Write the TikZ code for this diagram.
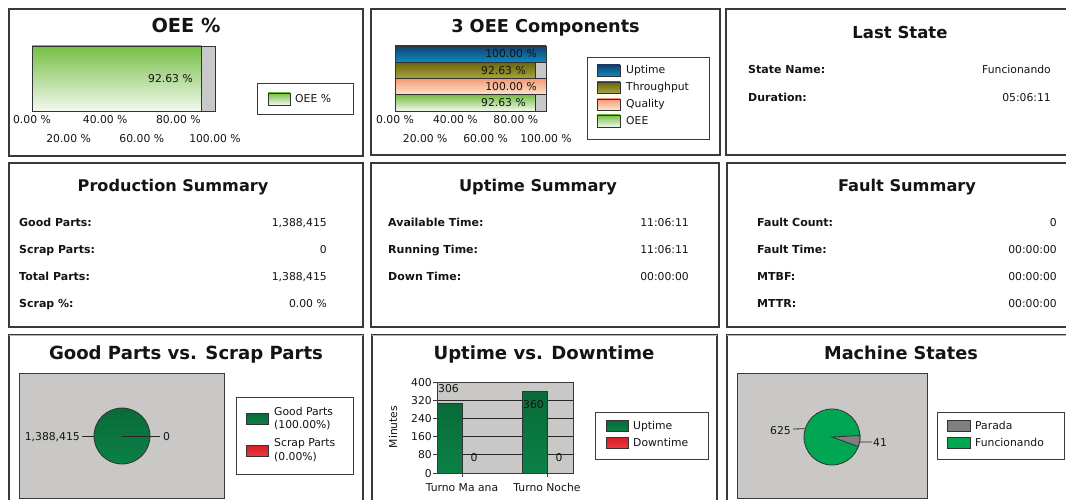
\documentclass[tikz,border=0pt]{standalone}
\usepackage{fontspec}
\setmainfont{DejaVu Sans}
\definecolor{txt}{HTML}{141414}
\definecolor{pborder}{HTML}{3A3A3A}
\definecolor{plotgray}{HTML}{C9C8C6}
\definecolor{restgray}{HTML}{C8C8C8}
\definecolor{oeetop}{HTML}{76BE45}
\definecolor{oeebot}{HTML}{F3F9EF}
\definecolor{uptop}{HTML}{16406E}
\definecolor{upbot}{HTML}{0A8CC0}
\definecolor{thtop}{HTML}{6A6610}
\definecolor{thbot}{HTML}{A9A53C}
\definecolor{qutop}{HTML}{F49A74}
\definecolor{qubot}{HTML}{FEE6D0}
\definecolor{gptop}{HTML}{0A6A39}
\definecolor{gpbot}{HTML}{0A8146}
\definecolor{sctop}{HTML}{D01F26}
\definecolor{scbot}{HTML}{F2333C}
\definecolor{fgreen}{HTML}{00A651}
\definecolor{pgray}{HTML}{7F7F7F}
\begin{document}
\begin{tikzpicture}[x=1pt,y=-1pt,
  panel/.style={draw=pborder,line width=1.2pt,fill=white},
  ttl/.style={font=\fontsize{#1}{20}\selectfont\bfseries,text=txt,inner sep=0,anchor=base},
  ttl/.default=17,
  lbl/.style={font=\fontsize{11}{13}\selectfont\bfseries,text=txt,inner sep=0,anchor=base west},
  val/.style={font=\fontsize{10.8}{13}\selectfont,text=txt,inner sep=0,anchor=base east},
  sm/.style={font=\fontsize{10.8}{13}\selectfont,text=txt,inner sep=0,anchor=base},
  smw/.style={sm,anchor=base west},
  sme/.style={sm,anchor=base east},
  legbox/.style={draw=pborder,line width=0.9pt,fill=white},
  sw/.style={draw=black!80,line width=0.8pt},
  barb/.style={draw=black!80,line width=0.8pt},
  leader/.style={draw=black!85,line width=0.8pt}]
\useasboundingbox (0,0) rectangle (1066,500);
\clip (0,0) rectangle (1066,500);
\fill[white] (0,0) rectangle (1066,500);

% ---------- panels ----------
\draw[panel] (9,9) rectangle (363,156);
\draw[panel] (371,9) rectangle (720,155);
\draw[panel] (726,9) rectangle (1080,155);
\draw[panel] (9,163) rectangle (363,327);
\draw[panel] (371,163) rectangle (719,327);
\draw[panel] (727,163) rectangle (1080,327);
\draw[panel] (9,335) rectangle (363,520);
\draw[panel] (372,335) rectangle (717,520);
\draw[panel] (727,335) rectangle (1080,520);
\draw[black!30,line width=1pt] (9,335) -- (363,335) (372,335) -- (717,335) (727,335) -- (1080,335);

% ---------- OEE % ----------
\node[ttl=19.3] (t1) at (186,32.7) {OEE \%};
\fill[top color=oeetop,bottom color=oeebot] (32,46) rectangle (201.5,111);
\fill[restgray] (201.5,46) rectangle (215,111);
\draw[barb] (201.5,46) -- (201.5,111);
\draw[barb] (32,46) rectangle (215,111);
\node[sme] (v1) at (193,83) {92.63 \%};
\node[sm] (a10) at (32,123.5) {0.00 \%};
\node[sm] (a140) at (105.2,123.5) {40.00 \%};
\node[sm] (a180) at (178.4,123.5) {80.00 \%};
\node[sm] (a120) at (68.6,143) {20.00 \%};
\node[sm] (a160) at (141.8,143) {60.00 \%};
\node[sm] (a1100) at (215,143) {100.00 \%};
\draw[legbox] (257,83) rectangle (353,114);
\draw[sw,top color=oeetop,bottom color=oeebot] (268,93) rectangle (290,105);
\node[smw] (l1) at (295,103) {OEE \%};

% ---------- 3 OEE Components ----------
\node[ttl=17.7] (t2) at (545.5,32.7) {3 OEE Components};
\fill[top color=uptop,bottom color=upbot] (395,46) rectangle (546,62.3);
\fill[top color=thtop,bottom color=thbot] (395,62.3) rectangle (534.9,78.6);
\fill[restgray] (534.9,62.3) rectangle (546,78.6);
\fill[top color=qutop,bottom color=qubot] (395,78.6) rectangle (546,94.9);
\fill[top color=oeetop,bottom color=oeebot] (395,94.9) rectangle (534.9,111);
\fill[restgray] (534.9,94.9) rectangle (546,111);
\draw[barb] (395,62.3) -- (546,62.3) (395,78.6) -- (546,78.6) (395,94.9) -- (546,94.9)
  (534.9,62.3) -- (534.9,78.6) (534.9,94.9) -- (534.9,111);
\draw[barb] (395,46) rectangle (546,111);
\node[sme] (v21) at (537,58) {100.00 \%};
\node[sme] (v22) at (526,75) {92.63 \%};
\node[sme] (v23) at (537,91) {100.00 \%};
\node[sme] (v24) at (526,107) {92.63 \%};
\node[sm] (a20) at (395,123.5) {0.00 \%};
\node[sm] (a240) at (455.4,123.5) {40.00 \%};
\node[sm] (a280) at (515.8,123.5) {80.00 \%};
\node[sm] (a220) at (425.2,143) {20.00 \%};
\node[sm] (a260) at (485.6,143) {60.00 \%};
\node[sm] (a2100) at (546,143) {100.00 \%};
\draw[legbox] (587,57) rectangle (709,139);
\draw[sw,top color=uptop,bottom color=upbot] (597,65) rectangle (620,76);
\draw[sw,top color=thtop,bottom color=thbot] (597,82) rectangle (620,93);
\draw[sw,top color=qutop,bottom color=qubot] (597,99) rectangle (620,110);
\draw[sw,top color=oeetop,bottom color=oeebot] (597,115) rectangle (620,127);
\node[smw] (l21) at (626,74) {Uptime};
\node[smw] (l22) at (626,91) {Throughput};
\node[smw] (l23) at (626,107.5) {Quality};
\node[smw] (l24) at (626,125) {OEE};

% ---------- Last State ----------
\node[ttl=16.5] (t3) at (900,38.3) {Last State};
\node[lbl] (k31) at (748,74) {State Name:};
\node[val] (v31) at (1051,74) {Funcionando};
\node[lbl] (k32) at (748,101.5) {Duration:};
\node[val] (v32) at (1051,101.5) {05:06:11};

% ---------- Production Summary ----------
\node[ttl=16.1] (t4) at (173,191.5) {Production Summary};
\node[lbl] (k41) at (19,226) {Good Parts:};
\node[val] (v41) at (327,226) {1,388,415};
\node[lbl] (k42) at (19,253) {Scrap Parts:};
\node[val] (v42) at (327,253) {0};
\node[lbl] (k43) at (19,280) {Total Parts:};
\node[val] (v43) at (327,280) {1,388,415};
\node[lbl] (k44) at (19,307) {Scrap \%:};
\node[val] (v44) at (327,307) {0.00 \%};

% ---------- Uptime Summary ----------
\node[ttl=16.2] (t5) at (538,191.5) {Uptime Summary};
\node[lbl] (k51) at (388,226) {Available Time:};
\node[val] (v51) at (689,226) {11:06:11};
\node[lbl] (k52) at (388,253) {Running Time:};
\node[val] (v52) at (689,253) {11:06:11};
\node[lbl] (k53) at (388,280) {Down Time:};
\node[val] (v53) at (689,280) {00:00:00};

% ---------- Fault Summary ----------
\node[ttl=16.2] (t6) at (907,191.5) {Fault Summary};
\node[lbl] (k61) at (757,226) {Fault Count:};
\node[val] (v61) at (1057,226) {0};
\node[lbl] (k62) at (757,253) {Fault Time:};
\node[val] (v62) at (1057,253) {00:00:00};
\node[lbl] (k63) at (757,280) {MTBF:};
\node[val] (v63) at (1057,280) {00:00:00};
\node[lbl] (k64) at (757,307) {MTTR:};
\node[val] (v64) at (1057,307) {00:00:00};

% ---------- Good Parts vs. Scrap Parts ----------
\node[ttl=18.1] (t7) at (186,359) {Good Parts vs. Scrap Parts};
\draw[draw=pborder,line width=1pt,fill=plotgray] (19,373) rectangle (224,498);
\node[circle,inner sep=0,minimum size=56pt,draw=black!80,line width=0.8pt,top color=gptop,bottom color=gpbot] (gp) at (122,436) {};
\coordinate (gpR) at (160,436);
\coordinate (gpL) at (82,436);
\draw[leader] (gp.center) -- (gpR);
\draw[leader] (gpL) -- (gp.west);
\node[smw] (gp0) at (163,440) {0};
\node[sme] (gpv) at (80,440) {1,388,415};
\draw[legbox] (236,397) rectangle (353,474);
\draw[sw,top color=gptop,bottom color=gpbot] (246,413) rectangle (268,424);
\draw[sw,top color=sctop,bottom color=scbot] (246,445) rectangle (268,456);
\node[smw] (l71) at (274,415) {Good Parts};
\node[smw] (l72) at (274,428.5) {(100.00\%)};
\node[smw] (l73) at (274,446.5) {Scrap Parts};
\node[smw] (l74) at (274,460.5) {(0.00\%)};

% ---------- Uptime vs. Downtime ----------
\node[ttl=18.1] (t8) at (544,359) {Uptime vs. Downtime};
\fill[plotgray] (437,382) rectangle (573,473);
\draw[black!85,line width=0.8pt] (437,400.2) -- (573,400.2) (437,418.4) -- (573,418.4)
  (437,436.6) -- (573,436.6) (437,454.8) -- (573,454.8);
\draw[top color=gptop,bottom color=gpbot,draw=black!80,line width=0.8pt] (437,403.4) rectangle (462,473);
\draw[top color=gptop,bottom color=gpbot,draw=black!80,line width=0.8pt] (522,391) rectangle (547,473);
\draw[pborder,line width=1pt] (437,382) rectangle (573,473);
\foreach \yy in {382,400.2,418.4,436.6,454.8,473} \draw[pborder,line width=0.8pt] (433,\yy) -- (437,\yy);
\draw[pborder,line width=0.8pt] (462,473) -- (462,477) (547,473) -- (547,477);
\node[sme] (y400) at (432,386) {400};
\node[sme] (y320) at (432,404.2) {320};
\node[sme] (y240) at (432,422.4) {240};
\node[sme] (y160) at (432,440.6) {160};
\node[sme] (y80) at (432,458.8) {80};
\node[sme] (y0) at (432,477) {0};
\node[sm,rotate=90,anchor=center] (ymin) at (393,427) {Minutes};
\node[smw] (b1) at (438,392) {306};
\node[smw] (b2) at (523,408) {360};
\node[sm] (b3) at (474,461) {0};
\node[sm] (b4) at (559,461) {0};
\node[sm] (c1) at (462,491) {Turno Ma ana};
\node[sm] (c2) at (547,491) {Turno Noche};
\draw[legbox] (595,412) rectangle (708,459);
\draw[sw,top color=gptop,bottom color=gpbot] (606,420) rectangle (628,431);
\draw[sw,top color=sctop,bottom color=scbot] (606,437) rectangle (628,448);
\node[smw] (l81) at (633,429) {Uptime};
\node[smw] (l82) at (633,446) {Downtime};

% ---------- Machine States ----------
\node[ttl=17.7] (t9) at (901,359) {Machine States};
\draw[draw=pborder,line width=1pt,fill=plotgray] (737,373) rectangle (927,498);
\node[circle,inner sep=0,minimum size=56pt,draw=black!80,line width=0.8pt,fill=fgreen] (ms) at (832,437) {};
\filldraw[fill=pgray,draw=black!80,line width=0.8pt] (ms.center) -- ++(-3:28) arc[start angle=-3,end angle=20,radius=28] -- cycle;
\coordinate (m625) at (793,429);
\coordinate (m41) at (872,442);
\draw[leader] (m625) -- (ms.163);
\draw[leader] (ms.-10) -- (m41);
\node[sme] (mv1) at (791,434) {625};
\node[smw] (mv2) at (873,446.5) {41};
\draw[legbox] (937,412) rectangle (1064,459);
\draw[sw,fill=pgray] (947,420) rectangle (970,431);
\draw[sw,fill=fgreen] (947,437) rectangle (970,448);
\node[smw] (l91) at (975,429) {Parada};
\node[smw] (l92) at (975,446.5) {Funcionando};
\end{tikzpicture}
\end{document}
